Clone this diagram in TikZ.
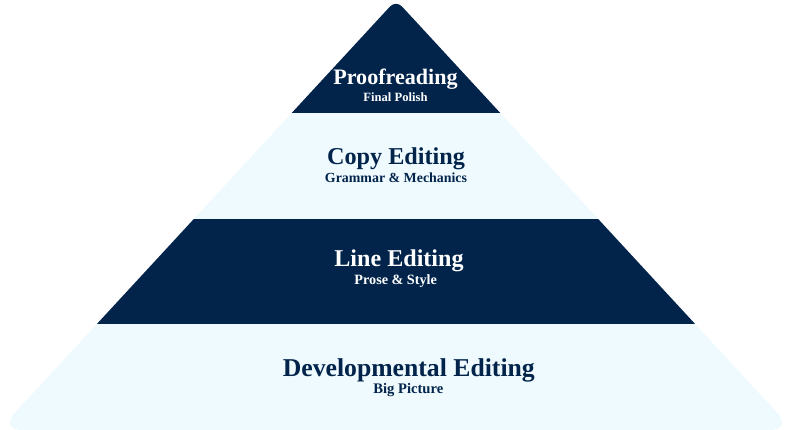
\documentclass[tikz,border=0pt]{standalone}
\usepackage{fontspec}
\setmainfont{Liberation Serif}
\definecolor{navy}{HTML}{02244B}
\definecolor{paleblue}{HTML}{EEFAFE}
\tikzset{
  title/.style={anchor=base, inner sep=0pt, font=\bfseries},
  darktext/.style={text=white},
  lighttext/.style={text=navy},
}
\newcommand{\fs}[1]{\fontsize{#1}{#1}\selectfont\bfseries}
\begin{document}
\begin{tikzpicture}[x=1pt,y=-1pt]
\useasboundingbox (0,0) rectangle (792,430);
\begin{scope}
  % apex rounding
  \clip[rounded corners=9pt] (396,430) -- (-1,430) -- (396,0) -- (793,430) -- cycle;
  % base corner rounding (sides extended beyond the apex)
  \clip[rounded corners=23pt] (396,430) -- (-1,430) -- (442.2,-50) -- (349.8,-50) -- (793,430) -- cycle;
  \fill[navy] (-5,-5) rectangle (797,113.5);
  \fill[paleblue] (-5,113.5) rectangle (797,219);
  \fill[navy] (-5,219) rectangle (797,324);
  \fill[paleblue] (-5,324) rectangle (797,435);
\end{scope}
\node[title,darktext] (proof) at (395.5,85) {\fs{22.1}Proofreading};
\node[title,darktext] (proofsub) at (395.5,102) {\fs{12.6}Final Polish};
\node[title,lighttext] (copy) at (396,165) {\fs{24.2}Copy Editing};
\node[title,lighttext] (copysub) at (396,183) {\fs{13.9}Grammar \& Mechanics};
\node[title,darktext] (line) at (399,266.5) {\fs{24.1}Line Editing};
\node[title,darktext] (linesub) at (395.7,284.3) {\fs{14.2}Prose \& Style};
\node[title,lighttext] (dev) at (408.8,376.7) {\fs{25.7}Developmental Editing};
\node[title,lighttext] (devsub) at (408.3,393.3) {\fs{14.6}Big Picture};
\end{tikzpicture}
\end{document}
